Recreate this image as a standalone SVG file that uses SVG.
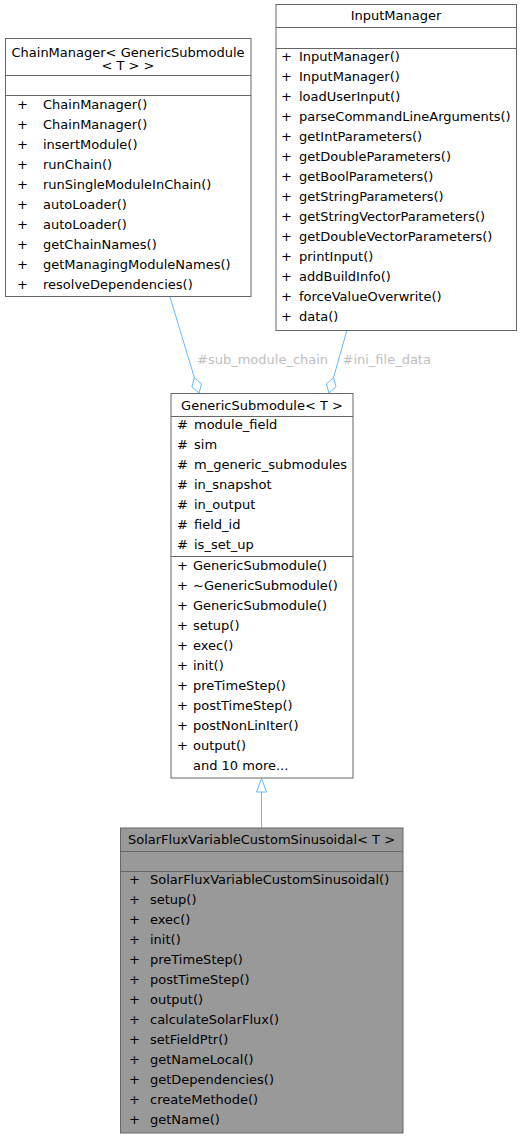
<svg xmlns="http://www.w3.org/2000/svg" width="522" height="1139" viewBox="0 0 522 1139">
<style>
text{font-family:"DejaVu Sans","Liberation Sans",sans-serif;font-size:13px;fill:#000}
.box{fill:#fff;stroke:#666;stroke-width:1}
.sel{fill:#999;stroke:#666;stroke-width:1}
.sep{stroke:#666;stroke-width:1}
.t{text-anchor:middle}
.edge{stroke:#63b8ff;stroke-width:1;fill:none}
.lbl{fill:#bebebe}
</style>
<rect width="522" height="1139" fill="#fff"/>
<g id="connectors">
<path class="edge" d="M170,297 L194.4,377.7"/>
<polygon points="199,393 201.5,383.8 194.4,377.7 191.9,386.8" fill="#fff" stroke="#63b8ff"/>
<text class="lbl" x="197" y="364">#sub_module_chain</text>
<path class="edge" d="M347,330 L333.5,377.6"/>
<polygon points="329,393 326.4,383.9 333.5,377.6 336,386.7" fill="#fff" stroke="#63b8ff"/>
<text class="lbl" x="342.5" y="364">#ini_file_data</text>
<path class="edge" d="M261.5,792 L261.5,828"/>
<polygon points="261.5,778.5 256.5,792 266.5,792" fill="#fff" stroke="#63b8ff"/>
</g>
<g id="ChainManager">
<rect class="box" x="5.5" y="38.5" width="245.5" height="258"/>
<line class="sep" x1="5.5" y1="75.5" x2="251" y2="75.5"/>
<line class="sep" x1="5.5" y1="95.5" x2="251" y2="95.5"/>
<text class="t" x="128" y="57">ChainManager&lt; GenericSubmodule</text>
<text class="t" x="128" y="70">&lt; T &gt; &gt;</text>
<g>
<text x="17" y="109">+</text><text x="43" y="109">ChainManager()</text>
<text x="17" y="129">+</text><text x="43" y="129">ChainManager()</text>
<text x="17" y="149">+</text><text x="43" y="149">insertModule()</text>
<text x="17" y="169">+</text><text x="43" y="169">runChain()</text>
<text x="17" y="189">+</text><text x="43" y="189">runSingleModuleInChain()</text>
<text x="17" y="209">+</text><text x="43" y="209">autoLoader()</text>
<text x="17" y="229">+</text><text x="43" y="229">autoLoader()</text>
<text x="17" y="249">+</text><text x="43" y="249">getChainNames()</text>
<text x="17" y="269">+</text><text x="43" y="269">getManagingModuleNames()</text>
<text x="17" y="289">+</text><text x="43" y="289">resolveDependencies()</text>
</g>
</g>
<g id="InputManager">
<rect class="box" x="276" y="4.5" width="240.5" height="326"/>
<line class="sep" x1="276" y1="27.5" x2="516.5" y2="27.5"/>
<line class="sep" x1="276" y1="48.5" x2="516.5" y2="48.5"/>
<text class="t" x="396" y="20">InputManager</text>
<g>
<text x="281" y="61">+</text><text x="299" y="61">InputManager()</text>
<text x="281" y="81">+</text><text x="299" y="81">InputManager()</text>
<text x="281" y="101">+</text><text x="299" y="101">loadUserInput()</text>
<text x="281" y="121">+</text><text x="299" y="121">parseCommandLineArguments()</text>
<text x="281" y="141">+</text><text x="299" y="141">getIntParameters()</text>
<text x="281" y="161">+</text><text x="299" y="161">getDoubleParameters()</text>
<text x="281" y="181">+</text><text x="299" y="181">getBoolParameters()</text>
<text x="281" y="201">+</text><text x="299" y="201">getStringParameters()</text>
<text x="281" y="221">+</text><text x="299" y="221">getStringVectorParameters()</text>
<text x="281" y="241">+</text><text x="299" y="241">getDoubleVectorParameters()</text>
<text x="281" y="261">+</text><text x="299" y="261">printInput()</text>
<text x="281" y="281">+</text><text x="299" y="281">addBuildInfo()</text>
<text x="281" y="301">+</text><text x="299" y="301">forceValueOverwrite()</text>
<text x="281" y="321">+</text><text x="299" y="321">data()</text>
</g>
</g>
<g id="GenericSubmodule">
<rect class="box" x="171" y="393.5" width="182" height="384.5"/>
<line class="sep" x1="171" y1="416.5" x2="353" y2="416.5"/>
<line class="sep" x1="171" y1="556.5" x2="353" y2="556.5"/>
<text class="t" x="262" y="410">GenericSubmodule&lt; T &gt;</text>
<g>
<text x="177" y="429">#</text><text x="194" y="429">module_field</text>
<text x="177" y="449">#</text><text x="194" y="449">sim</text>
<text x="177" y="469">#</text><text x="194" y="469">m_generic_submodules</text>
<text x="177" y="489">#</text><text x="194" y="489">in_snapshot</text>
<text x="177" y="509">#</text><text x="194" y="509">in_output</text>
<text x="177" y="529">#</text><text x="194" y="529">field_id</text>
<text x="177" y="549">#</text><text x="194" y="549">is_set_up</text>
</g>
<g>
<text x="177" y="570">+</text><text x="193" y="570">GenericSubmodule()</text>
<text x="177" y="590">+</text><text x="193" y="590">~GenericSubmodule()</text>
<text x="177" y="610">+</text><text x="193" y="610">GenericSubmodule()</text>
<text x="177" y="630">+</text><text x="193" y="630">setup()</text>
<text x="177" y="650">+</text><text x="193" y="650">exec()</text>
<text x="177" y="670">+</text><text x="193" y="670">init()</text>
<text x="177" y="690">+</text><text x="193" y="690">preTimeStep()</text>
<text x="177" y="710">+</text><text x="193" y="710">postTimeStep()</text>
<text x="177" y="730">+</text><text x="193" y="730">postNonLinIter()</text>
<text x="177" y="750">+</text><text x="193" y="750">output()</text>
<text x="193" y="770">and 10 more...</text>
</g>
</g>
<g id="SolarFluxVariableCustomSinusoidal">
<rect class="sel" x="120.5" y="828" width="282.5" height="305"/>
<line class="sep" x1="120.5" y1="851.5" x2="403" y2="851.5"/>
<line class="sep" x1="120.5" y1="871.5" x2="403" y2="871.5"/>
<text class="t" x="261.5" y="844">SolarFluxVariableCustomSinusoidal&lt; T &gt;</text>
<g>
<text x="129" y="884">+</text><text x="150" y="884">SolarFluxVariableCustomSinusoidal()</text>
<text x="129" y="904">+</text><text x="150" y="904">setup()</text>
<text x="129" y="924">+</text><text x="150" y="924">exec()</text>
<text x="129" y="944">+</text><text x="150" y="944">init()</text>
<text x="129" y="964">+</text><text x="150" y="964">preTimeStep()</text>
<text x="129" y="984">+</text><text x="150" y="984">postTimeStep()</text>
<text x="129" y="1004">+</text><text x="150" y="1004">output()</text>
<text x="129" y="1024">+</text><text x="150" y="1024">calculateSolarFlux()</text>
<text x="129" y="1044">+</text><text x="150" y="1044">setFieldPtr()</text>
<text x="129" y="1064">+</text><text x="150" y="1064">getNameLocal()</text>
<text x="129" y="1084">+</text><text x="150" y="1084">getDependencies()</text>
<text x="129" y="1104">+</text><text x="150" y="1104">createMethode()</text>
<text x="129" y="1124">+</text><text x="150" y="1124">getName()</text>
</g>
</g>
</svg>
